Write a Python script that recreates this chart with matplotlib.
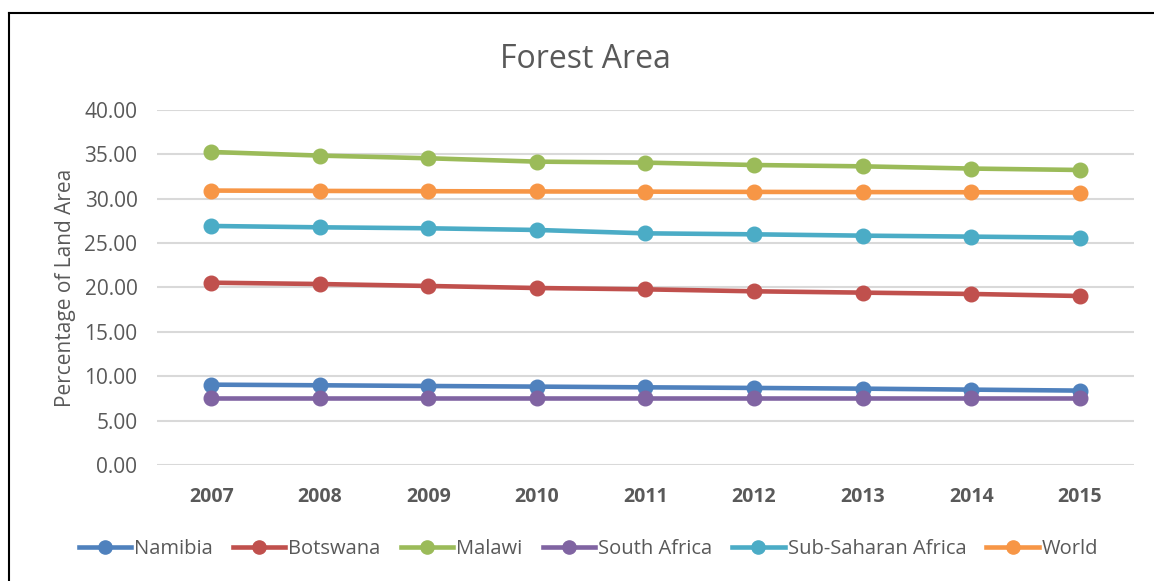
import matplotlib
matplotlib.use("Agg")
import matplotlib.pyplot as plt
from matplotlib.lines import Line2D

plt.rcParams['font.family'] = ['Open Sans', 'DejaVu Sans']

years = ["2007", "2008", "2009", "2010", "2011", "2012", "2013", "2014", "2015"]
namibia = [9.05, 8.98, 8.90, 8.83, 8.75, 8.68, 8.60, 8.49, 8.38]
botswana = [20.54, 20.39, 20.17, 19.94, 19.79, 19.57, 19.42, 19.27, 19.04]
malawi = [35.27, 34.86, 34.56, 34.18, 34.07, 33.80, 33.65, 33.40, 33.24]
south_africa = [7.60, 7.60, 7.60, 7.60, 7.60, 7.60, 7.60, 7.60, 7.60]
sub_saharan = [26.93, 26.78, 26.67, 26.48, 26.10, 25.99, 25.84, 25.73, 25.61]
world = [30.92, 30.88, 30.85, 30.82, 30.80, 30.77, 30.75, 30.73, 30.70]

series = [
    ("Namibia", namibia, "#4F81BD"),
    ("Botswana", botswana, "#C0504D"),
    ("Malawi", malawi, "#9BBB59"),
    ("South Africa", south_africa, "#8064A2"),
    ("Sub-Saharan Africa", sub_saharan, "#4BACC6"),
    ("World", world, "#F79646"),
]

TEXT = "#595959"
GRID = "#D9D9D9"

fig = plt.figure(figsize=(11.54, 5.81), dpi=100)
ax = fig.add_axes([0.136, 0.1997, 0.8467, 0.611])

x = list(range(len(years)))
for name, vals, color in series:
    ax.plot(x, vals, color=color, lw=3.3, marker="o", ms=10.5,
            solid_capstyle="round", label=name)

ax.set_xlim(-0.5, len(years) - 0.5)
ax.set_ylim(0, 40)
ax.set_yticks([0, 5, 10, 15, 20, 25, 30, 35, 40])
ax.set_yticklabels([f"{v:.2f}" for v in ax.get_yticks()])
ax.set_xticks(x)
ax.set_xticklabels(years, fontweight="bold")
ax.tick_params(axis="y", length=0, pad=14, labelsize=15, labelcolor=TEXT)
ax.tick_params(axis="x", length=0, pad=16, labelsize=14, labelcolor=TEXT)
ax.grid(axis="y", color=GRID, lw=1.5)
ax.set_axisbelow(True)
for s in ax.spines.values():
    s.set_visible(False)

ax.set_ylabel("Percentage of Land Area", fontsize=15, color=TEXT, labelpad=6)

fig.text(0.507, 0.897, "Forest Area", ha="center", va="center",
         fontsize=23, color=TEXT)

handles = [Line2D([0], [0], color=c, lw=3.3, marker="o", ms=9.5) for _, _, c in series]
fig.legend(handles, [n for n, _, _ in series], loc="center",
           bbox_to_anchor=(0.51, 0.055), ncol=6, frameon=False,
           fontsize=14.5, labelcolor=TEXT, handlelength=2.6,
           handletextpad=0.15, columnspacing=1.0)

# outer frame of the chart object
fig.add_artist(Line2D([8.5 / 1154, 8.5 / 1154], [1 - 12.5 / 581, 0], color="black",
                      lw=1.5, transform=fig.transFigure))
fig.add_artist(Line2D([8.5 / 1154, 1], [1 - 12.5 / 581, 1 - 12.5 / 581], color="black",
                      lw=1.5, transform=fig.transFigure))

fig.savefig("out.png", dpi=100)
